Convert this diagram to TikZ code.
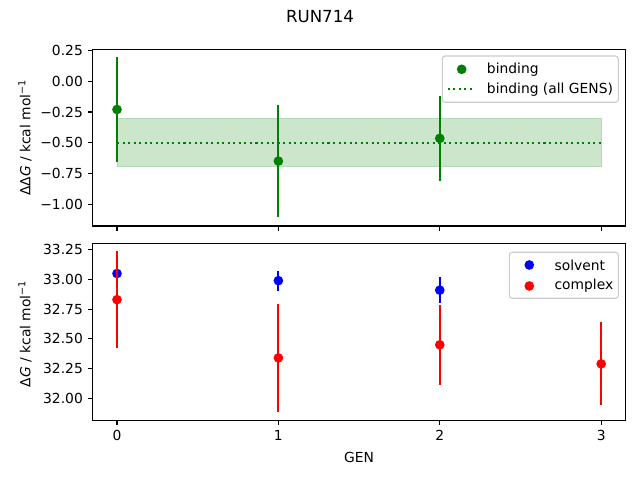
\documentclass[tikz,border=0pt]{standalone}
\usepackage{fontspec}
\setmainfont{DejaVu Sans}
\definecolor{mplgreen}{RGB}{0,128,0}
\definecolor{mplblue}{RGB}{0,0,255}
\definecolor{mplred}{RGB}{255,0,0}
\definecolor{bandgreen}{RGB}{204,230,204}
\definecolor{bandedge}{RGB}{180,218,180}
\definecolor{legendedge}{RGB}{204,204,204}
\tikzset{
  errbar/.style={line width=1.5pt},
  axisline/.style={line width=0.8pt},
  ticklabel/.style={inner sep=0pt},
  legendbox/.style={draw=legendedge,fill=white,fill opacity=0.8,rounded corners=2pt,line width=0.8pt},
  mpldotted/.style={line width=1.5pt,dash pattern=on 1.5pt off 2.5pt},
}
\begin{document}
\begin{tikzpicture}[x=0.01in,y=-0.01in,font=\fontsize{10}{12}\selectfont]
\useasboundingbox (0,0) rectangle (640,480);
\node (title) at (320,17) {\fontsize{12}{14}\selectfont RUN714};

% 上图
\begin{scope}[shift={(117,81.3)},x=1.613in,y=1.227in]
  \filldraw[fill=bandgreen,draw=bandedge,line width=0.7pt] (0,-0.695) rectangle (3,-0.305);
  \draw[mplgreen,mpldotted] (0,-0.5) -- (3,-0.5);
  \foreach \x/\y/\e in {0/-0.23/0.425,1/-0.65/0.455,2/-0.465/0.345}{
    \draw[errbar,mplgreen] (\x,\y-\e) -- (\x,\y+\e);
    \fill[mplgreen] (\x,\y) circle (3.5pt);
  }
  % 坐标轴
  \draw[axisline] (-0.15,-1.179) rectangle (3.15,0.261);
  \foreach \y/\t [count=\i] in {0.25/0.25,0/0.00,-0.25/−0.25,-0.5/−0.50,-0.75/−0.75,-1/−1.00}{
    \draw[axisline] (-0.15,\y) -- ++(-3.5pt,0);
    \node[ticklabel,anchor=east] (tya\i) at ([xshift=-7pt]-0.15,\y) {\t};
  }
  \foreach \x in {0,...,3} \draw[axisline] (\x,-1.179) -- ++(0,-3.5pt);
\end{scope}
\node[rotate=90] (ylabeltop) at (25,137.7) {ΔΔ\textit{G} / kcal mol\textsuperscript{−1}};

% 上图图例
\draw[legendbox] (442.3,56) rectangle (618.3,102.3);
\fill[mplgreen] (461.7,69.3) circle (3.5pt);
\node[anchor=west,inner sep=0pt] (legbinding) at (486.7,69.3) {binding};
\draw[mplgreen,mpldotted] (447.7,89.3) -- (475,89.3);
\node[anchor=west,inner sep=0pt] (legall) at (486.7,89.3) {binding (all GENS)};

% 下图
\begin{scope}[shift={(117,{281.7+33*118.8})},x=1.613in,y=1.188in]
  \foreach \x/\y/\e in {0/33.05/0.01,1/32.99/0.085,2/32.91/0.11}{
    \draw[errbar,mplblue] (\x,\y-\e) -- (\x,\y+\e);
    \fill[mplblue] (\x,\y) circle (3.5pt);
  }
  \foreach \x/\y/\e in {0/32.83/0.41,1/32.34/0.455,2/32.45/0.335,3/32.29/0.35}{
    \draw[errbar,mplred] (\x,\y-\e) -- (\x,\y+\e);
    \fill[mplred] (\x,\y) circle (3.5pt);
  }
  % 坐标轴
  \draw[axisline] (-0.15,31.816) rectangle (3.15,33.306);
  \foreach \y [count=\i] in {32.00,32.25,32.50,32.75,33.00,33.25}{
    \draw[axisline] (-0.15,\y) -- ++(-3.5pt,0);
    \node[ticklabel,anchor=east] (tyb\i) at ([xshift=-7pt]-0.15,\y) {\y};
  }
  \foreach \x in {0,...,3}{
    \draw[axisline] (\x,31.816) -- ++(0,-3.5pt);
    \node[ticklabel,anchor=north] (tx\x) at ([yshift=-7pt]\x,31.816) {\x};
  }
\end{scope}
\node[rotate=90] (ylabelbot) at (25,333.8) {Δ\textit{G} / kcal mol\textsuperscript{−1}};
\node (xlabel) at (359,457.7) {GEN};

% 下图图例
\draw[legendbox] (509.3,252.3) rectangle (618.3,298.3);
\fill[mplblue] (529.3,265) circle (3.5pt);
\node[anchor=west,inner sep=0pt] (legsolvent) at (554.3,265) {solvent};
\fill[mplred] (529.3,286) circle (3.5pt);
\node[anchor=west,inner sep=0pt] (legcomplex) at (554.3,286) {complex};
\end{tikzpicture}
\end{document}
